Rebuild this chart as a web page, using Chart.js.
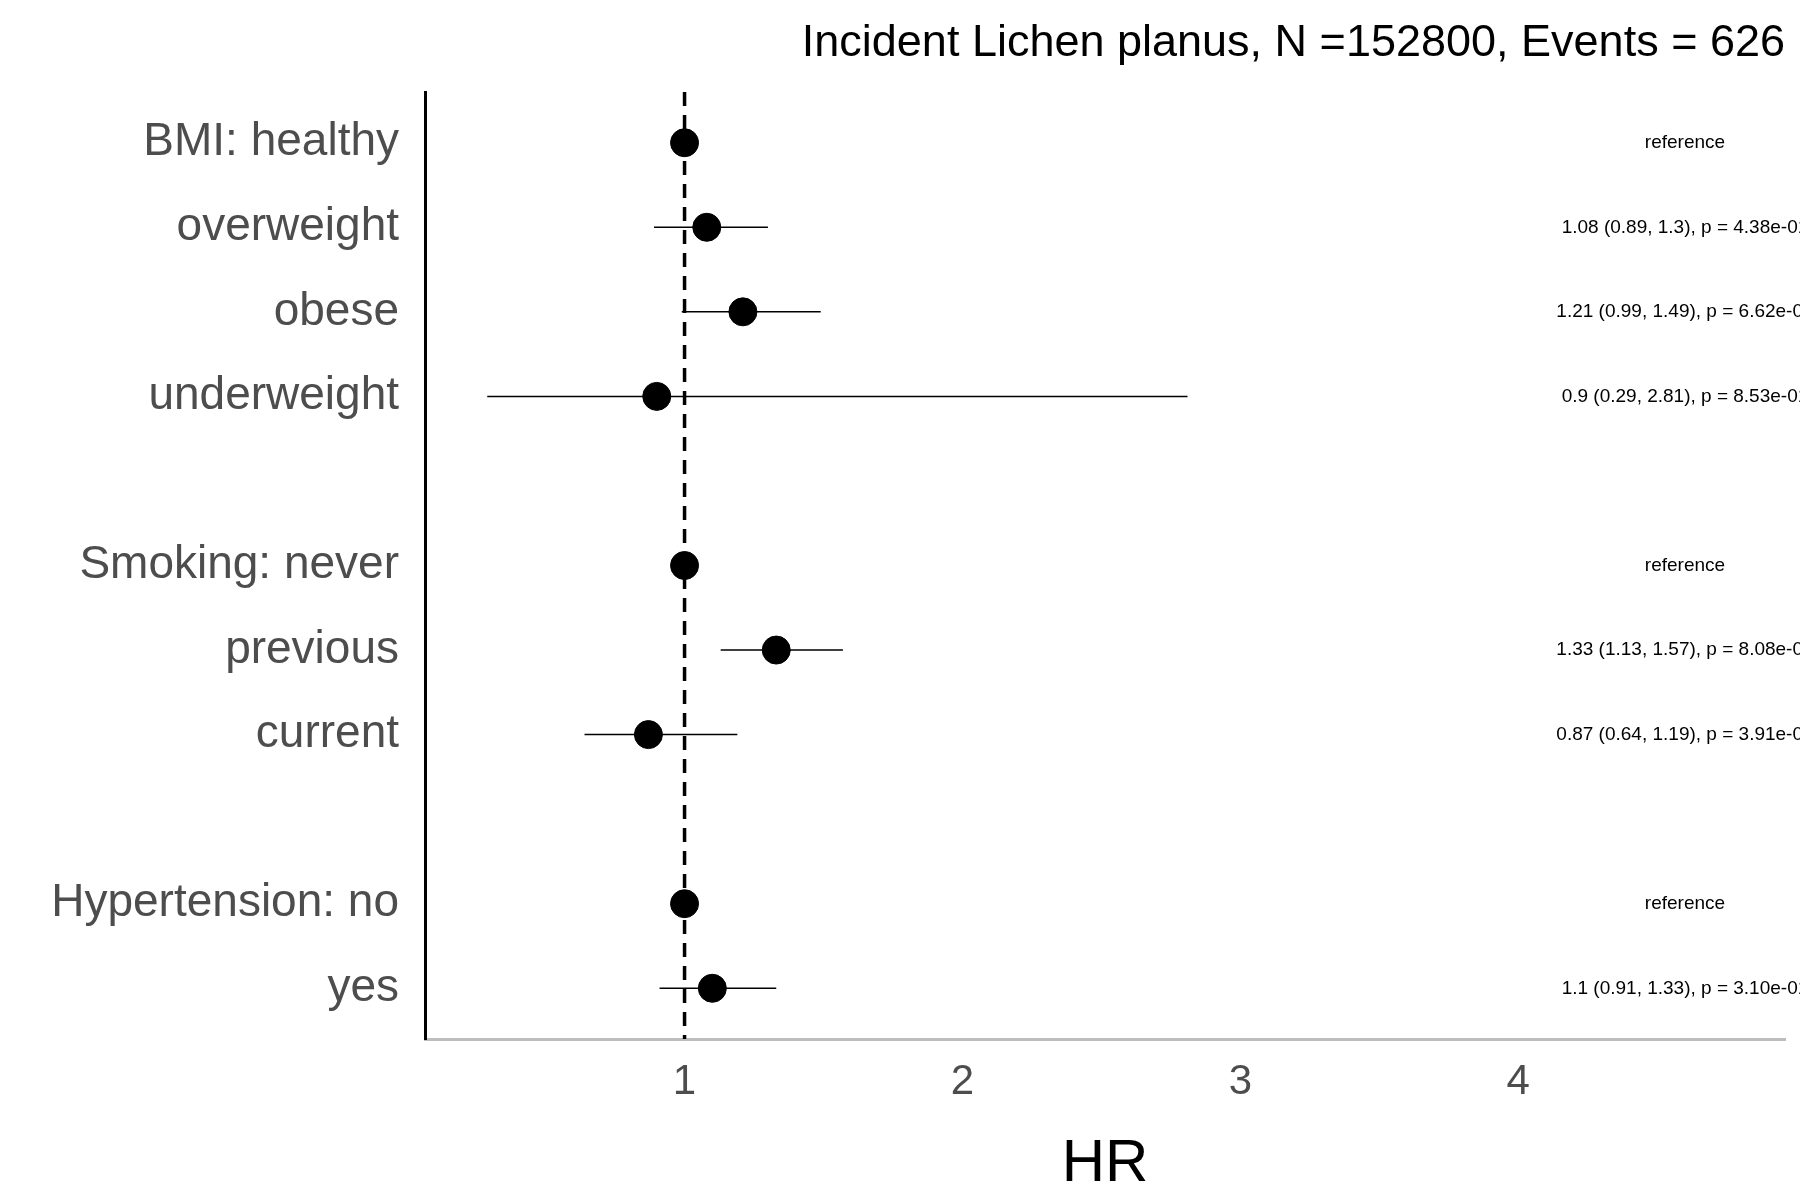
<!DOCTYPE html>
<html>
<head>
<meta charset="utf-8">
<script src="https://cdn.jsdelivr.net/npm/chart.js@4/dist/chart.umd.min.js"></script>
<style>
  body { margin: 0; background: #fff; }
  #wrap { width: 1800px; height: 1200px; }
</style>
</head>
<body>
<div id="wrap"><canvas id="chart"></canvas></div>
<script>
// Forest plot data (rows top to bottom, '' = spacer row)
const rowLabels = ['BMI: healthy', 'overweight', 'obese', 'underweight', '',
    'Smoking: never', 'previous', 'current', '',
    'Hypertension: no', 'yes'];
const hr = [1, 1.08, 1.21, 0.9, null, 1, 1.33, 0.87, null, 1, 1.1];
const ciLow = [null, 0.89, 0.99, 0.29, null, null, 1.13, 0.64, null, null, 0.91];
const ciHigh = [null, 1.3, 1.49, 2.81, null, null, 1.57, 1.19, null, null, 1.33];
const annotations = ['reference', '1.08 (0.89, 1.3), p = 4.38e-01', '1.21 (0.99, 1.49), p = 6.62e-02',
    '0.9 (0.29, 2.81), p = 8.53e-01', '', 'reference', '1.33 (1.13, 1.57), p = 8.08e-04',
    '0.87 (0.64, 1.19), p = 3.91e-01', '', 'reference', '1.1 (0.91, 1.33), p = 3.10e-01'];
const xTicks = [1, 2, 3, 4];
const annotX = 4.6;
const titleText = 'Incident Lichen planus, N =152800, Events = 626';

const FONT = 'Liberation Sans, Arial, sans-serif';

// Build datasets: one line per CI, points, and the dashed reference line
const datasets = [];
hr.forEach((v, i) => {
    if (ciLow[i] !== null) {
        datasets.push({
            type: 'line',
            data: [{ x: ciLow[i], y: i }, { x: ciHigh[i], y: i }],
            borderColor: '#000', borderWidth: 1.5, pointRadius: 0
        });
    }
});
datasets.push({
    type: 'line',
    data: [{ x: 1, y: -0.6 }, { x: 1, y: 10.6 }],
    borderColor: '#000', borderWidth: 3.5, borderDash: [14, 9], pointRadius: 0
});
datasets.push({
    type: 'scatter',
    data: hr.map((v, i) => v === null ? null : { x: v, y: i }).filter(d => d),
    backgroundColor: '#000', borderColor: '#000', pointRadius: 14
});

// Text annotations + title
const textPlugin = {
    id: 'texts',
    afterDraw(chart) {
        const { ctx, scales } = chart;
        ctx.save();
        ctx.fillStyle = '#000';
        ctx.font = '19px ' + FONT;
        ctx.textAlign = 'center';
        ctx.textBaseline = 'middle';
        annotations.forEach((t, i) => {
            if (t) ctx.fillText(t, scales.x.getPixelForValue(annotX), scales.y.getPixelForValue(i));
        });
        ctx.font = '45px ' + FONT;
        ctx.textAlign = 'right';
        ctx.fillText(titleText, chart.chartArea.right, 44);
        ctx.restore();
    }
};

new Chart(document.getElementById('chart'), {
    data: { datasets },
    options: {
        responsive: true,
        maintainAspectRatio: false,
        animation: false,
        layout: { padding: { top: 92, right: 15, left: 0, bottom: 0 } },
        plugins: { legend: { display: false }, tooltip: { enabled: false } },
        scales: {
            x: {
                type: 'linear', min: 0.066, max: 4.96,
                grid: { display: false },
                border: { color: '#bdbdbd', width: 3 },
                afterBuildTicks: s => { s.ticks = xTicks.map(v => ({ value: v })); },
                afterFit: s => { s.height = 161; },
                ticks: { color: '#4d4d4d', font: { size: 42, family: FONT }, padding: 10 },
                title: { display: true, text: 'HR', color: '#000', font: { size: 60, family: FONT }, padding: 0 }
            },
            y: {
                type: 'linear', min: -0.6, max: 10.6, reverse: true,
                grid: { display: false },
                border: { color: '#000', width: 3 },
                afterBuildTicks: s => {
                    s.ticks = rowLabels.map((l, i) => ({ value: i })).filter(t => rowLabels[t.value]);
                },
                afterFit: s => { s.width = 425; },
                ticks: {
                    color: '#4d4d4d', font: { size: 46, family: FONT }, padding: 18,
                    callback: v => rowLabels[v]
                }
            }
        }
    },
    plugins: [textPlugin]
});
</script>
</body>
</html>
